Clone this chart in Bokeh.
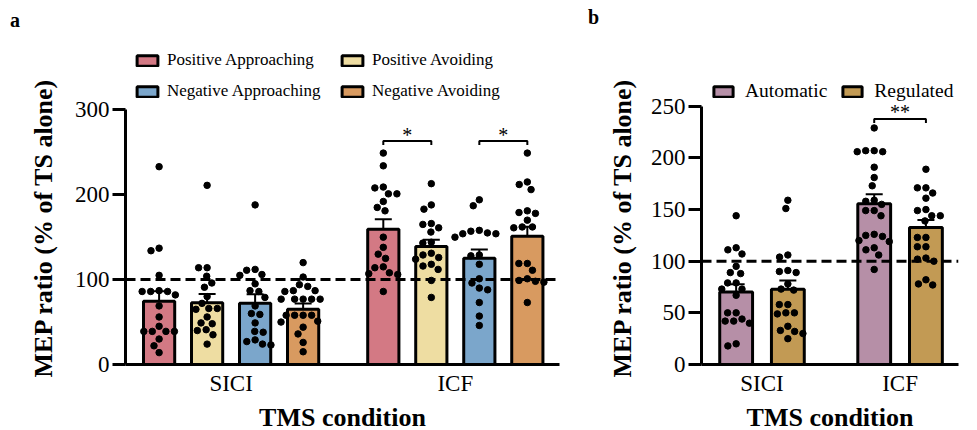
import numpy as np
from bokeh.plotting import figure
from bokeh.layouts import row, column
from bokeh.models import (ColumnDataSource, Range1d, FixedTicker, Span, Whisker,
                          TeeHead, Legend, LegendItem, Title, Div)
from bokeh.embed import file_html
from bokeh.resources import INLINE
from bokeh.core.properties import value

FONT = "Liberation Serif"

# ---------------- data: panel a ----------------
conditions = ["SICI", "ICF"]
series_a = ["Positive Approaching", "Positive Avoiding", "Negative Approaching", "Negative Avoiding"]
colors_a = ["#D37984", "#EEDDA2", "#7BA6CB", "#D89A60"]
means_a_sici = [74.5, 72.7, 72.2, 65.2]
means_a_icf = [159.4, 139.0, 125.2, 151.2]
sem_a_sici = [11.7, 10.3, 10.5, 6.6]
sem_a_icf = [11.6, 8.0, 10.3, 11.0]

dots_a_sici_pa = [233, 137, 134, 105, 87, 86, 86, 86, 82, 69, 56, 45, 39, 39, 39, 39, 30, 22, 14]
dots_a_sici_pav = [211, 114, 114, 104, 96, 91, 80, 72, 66, 65, 66, 56, 49, 48, 41, 40, 35, 24]
dots_a_sici_na = [188, 112, 111, 106, 105, 95, 87, 86, 79, 69, 60, 59, 49, 39, 38, 29, 27, 24, 23]
dots_a_sici_nav = [120, 103, 94, 92, 87, 86, 87, 77, 77, 77, 77, 77, 58, 58, 58, 58, 51, 50, 44, 36, 26, 15]
dots_a_icf_pa = [249, 234, 209, 208, 201, 201, 192, 185, 181, 150, 138, 130, 125, 115, 114, 108, 107, 106, 86]
dots_a_icf_pav = [213, 188, 183, 166, 165, 161, 156, 144, 143, 131, 129, 126, 124, 118, 116, 112, 99, 79]
dots_a_icf_na = [194, 187, 158, 157, 155, 154, 154, 150, 129, 128, 118, 101, 96, 90, 88, 73, 57, 46]
dots_a_icf_nav = [249, 215, 212, 206, 181, 179, 178, 170, 162, 162, 161, 119, 119, 111, 101, 99, 98, 97, 73]
sig_a = [("ICF", 0, 1, "*"), ("ICF", 2, 3, "*")]
yticks_a = [0, 100, 200, 300]

# ---------------- data: panel b ----------------
series_b = ["Automatic", "Regulated"]
colors_b = ["#B68FA7", "#C29A54"]
means_b_sici = [70.3, 72.9]
means_b_icf = [155.5, 132.6]
sem_b_sici = [7.5, 8.3]
sem_b_icf = [9.3, 7.3]
dots_b_sici_auto = [144, 113, 111, 107, 95, 89, 88, 79, 79, 73, 73, 67, 50, 50, 44, 42, 42, 40, 20, 18]
dots_b_sici_reg = [159, 151, 106, 104, 91, 90, 89, 78, 73, 72, 58, 58, 50, 50, 49, 37, 33, 32, 30, 25]
dots_b_icf_auto = [229, 207, 207, 206, 206, 191, 181, 173, 159, 158, 155, 149, 149, 144, 126, 125,
                   124, 120, 119, 113, 111, 106, 92]
dots_b_icf_reg = [189, 171, 171, 166, 161, 150, 149, 144, 144, 139, 123, 123, 114, 114, 103, 102,
                  100, 82, 78, 77]
sig_b = [("ICF", 0, 1, "**")]
yticks_b = [0, 50, 100, 150, 200, 250]

ref_line = 100
x_title = "TMS condition"
y_title = "MEP ratio (% of TS alone)"
panel_letters = ["a", "b"]


def swarm(vals, sx, sy, d):
    """Beeswarm offsets (data x-units) for values, using pixel scales sx, sy."""
    vals = np.asarray(vals, dtype=float)
    order = np.argsort(-vals, kind="stable")
    placed = []
    offs = np.zeros(len(vals))
    for i in order:
        y = vals[i] * sy
        cands = [0.0]
        intervals = []
        for (px, py) in placed:
            dy = abs(py - y)
            if dy < d:
                w = (d * d - dy * dy) ** 0.5
                intervals.append((px - w, px + w))
                cands += [px - w, px + w]
        cands.sort(key=lambda c: (round(abs(c), 6), c))
        chosen = 0.0
        for c in cands:
            if all(not (a + 1e-6 < c < b - 1e-6) for a, b in intervals):
                chosen = c
                break
        placed.append((chosen, y))
        offs[i] = chosen / sx
    return offs


def style_axes(p, yticks, group_centers, title_standoff):
    for ax in p.yaxis:
        ax.ticker = FixedTicker(ticks=yticks)
        ax.bounds = (yticks[0], yticks[-1])
        ax.axis_line_width = 3
        ax.major_tick_line_width = 3
        ax.major_tick_out = 13
        ax.major_tick_in = 0
        ax.minor_tick_line_color = None
        ax.major_label_text_font = FONT
        ax.major_label_text_font_size = "23px"
        ax.major_label_text_color = "black"
        ax.major_label_standoff = 3
    p.add_layout(Title(text=y_title, align="left", offset=-13, standoff=title_standoff,
                       text_font=FONT, text_font_size="26px", text_font_style="bold",
                       text_color="black"), "left")
    for ax in p.xaxis:
        ax.ticker = FixedTicker(ticks=group_centers)
        ax.major_label_overrides = {c: n for c, n in zip(group_centers, conditions)}
        ax.axis_line_width = 3
        ax.major_tick_line_color = None
        ax.major_tick_out = 0
        ax.major_tick_in = 0
        ax.minor_tick_line_color = None
        ax.major_label_text_font = FONT
        ax.major_label_text_font_size = "23px"
        ax.major_label_text_color = "black"
        ax.major_label_standoff = 6
        ax.axis_label = x_title
        ax.axis_label_text_font = FONT
        ax.axis_label_text_font_size = "26px"
        ax.axis_label_text_font_style = "bold"
        ax.axis_label_text_color = "black"
        ax.axis_label_standoff = 4
    p.xgrid.visible = False
    p.ygrid.visible = False
    p.outline_line_color = None


def build(p, series, colors, means, sems, dots, step, width, sx, sy, sig, sig_pad_px, star_px):
    n = len(series)
    renderers = []
    tops = {}
    for s in range(n):
        xs = [g * step + s for g in range(len(conditions))]
        m = [means[g][s] for g in range(len(conditions))]
        e = [sems[g][s] for g in range(len(conditions))]
        src = ColumnDataSource(dict(x=xs, top=m, upper=[a + b for a, b in zip(m, e)],
                                    lower=[a - b for a, b in zip(m, e)]))
        r = p.vbar(x="x", top="top", width=width, source=src, fill_color=colors[s],
                   line_color="black", line_width=3)
        renderers.append(r)
        p.add_layout(Whisker(source=src, base="x", upper="upper", lower="lower",
                             line_width=2, line_color="black",
                             upper_head=TeeHead(size=17, line_width=2, line_color="black"),
                             lower_head=TeeHead(size=17, line_width=2, line_color="black")))
    p.add_layout(Span(location=ref_line, dimension="width", line_color="black",
                      line_width=3, line_dash="10 5"))
    for g in range(len(conditions)):
        for s in range(n):
            vals = dots[g][s]
            xo = swarm(vals, sx, sy, 8.5)
            xs = g * step + s + xo
            p.scatter(x=list(xs), y=list(vals), size=6.5, color="black")
            tops[(g, s)] = max(vals)
    for cond, s1, s2, lab in sig:
        g = conditions.index(cond)
        x1, x2 = g * step + s1, g * step + s2
        lvl = max(tops[(g, s1)], tops[(g, s2)]) + sig_pad_px / sy
        d = 4 / sy
        p.line(x=[x1, x1, x2, x2], y=[lvl - d, lvl, lvl, lvl - d], line_color="black", line_width=2)
        p.text(x=[(x1 + x2) / 2], y=[lvl + star_px / sy], text=[lab], text_align="center",
               text_baseline="middle", text_font=value(FONT), text_font_size="20px",
               text_color="black")
    return renderers


def header(width, height, letter, pad_left, pad_top):
    return Div(text=letter, width=width, height=height,
               styles={"font-family": FONT, "font-size": "20px", "font-weight": "bold",
                       "line-height": "20px", "padding-left": f"{pad_left}px",
                       "padding-top": f"{pad_top}px", "color": "black", "margin": "0"})


HEAD = 35
H = 444 - HEAD
BOTTOM = 80
FRAME_H = H - BOTTOM

# ---------------- panel a ----------------
step_a = 4.67
width_a = 0.65
sy_a = 0.849
pa = figure(width=580, height=H, x_range=Range1d(-0.70, 8.34), y_range=Range1d(0, FRAME_H / sy_a),
            output_backend="svg", toolbar_location=None, min_border_left=125,
            min_border_right=21, min_border_top=0, min_border_bottom=BOTTOM)
centers_a = [g * step_a + 1.5 for g in range(len(conditions))]
style_axes(pa, yticks_a, centers_a, 27)
rend_a = build(pa, series_a, colors_a, [means_a_sici, means_a_icf], [sem_a_sici, sem_a_icf],
               [[dots_a_sici_pa, dots_a_sici_pav, dots_a_sici_na, dots_a_sici_nav],
                [dots_a_icf_pa, dots_a_icf_pav, dots_a_icf_na, dots_a_icf_nav]],
               step_a, width_a, 48.0, sy_a, sig_a, 12, 6)
leg_a = Legend(items=[LegendItem(label=series_a[i], renderers=[rend_a[i]]) for i in range(4)],
               location=(9, 263), orientation="horizontal", ncols=2,
               glyph_width=26, glyph_height=13, label_standoff=7, label_width=161,
               label_height=20, spacing=11, padding=0, margin=0,
               border_line_color=None, background_fill_alpha=0,
               label_text_font=FONT, label_text_font_size="17px", label_text_color="black")
pa.add_layout(leg_a)
ha = header(580, HEAD, panel_letters[0], 10, 10)

# ---------------- panel b ----------------
step_b = 2.67
width_b = 0.635
sy_b = 1.033
pb = figure(width=388, height=H, x_range=Range1d(-0.67, 4.30), y_range=Range1d(0, FRAME_H / sy_b),
            output_backend="svg", toolbar_location=None, min_border_left=121,
            min_border_right=10, min_border_top=0, min_border_bottom=BOTTOM)
centers_b = [g * step_b + 0.5 for g in range(len(conditions))]
style_axes(pb, yticks_b, centers_b, 22)
rend_b = build(pb, series_b, colors_b, [means_b_sici, means_b_icf], [sem_b_sici, sem_b_icf],
               [[dots_b_sici_auto, dots_b_sici_reg], [dots_b_icf_auto, dots_b_icf_reg]],
               step_b, width_b, 51.5, sy_b, sig_b, 9, 7)
leg_b = Legend(items=[LegendItem(label=series_b[i], renderers=[rend_b[i]]) for i in range(2)],
               location=(10, 262), orientation="horizontal",
               glyph_width=24, glyph_height=13, label_standoff=10,
               label_height=20, spacing=13, padding=0, margin=0,
               border_line_color=None, background_fill_alpha=0,
               label_text_font=FONT, label_text_font_size="19.5px", label_text_color="black")
pb.add_layout(leg_b)
hb = header(388, HEAD, panel_letters[1], 8, 7)

layout = row(column(ha, pa), column(hb, pb))
open("out.html", "w").write(file_html(layout, INLINE))
